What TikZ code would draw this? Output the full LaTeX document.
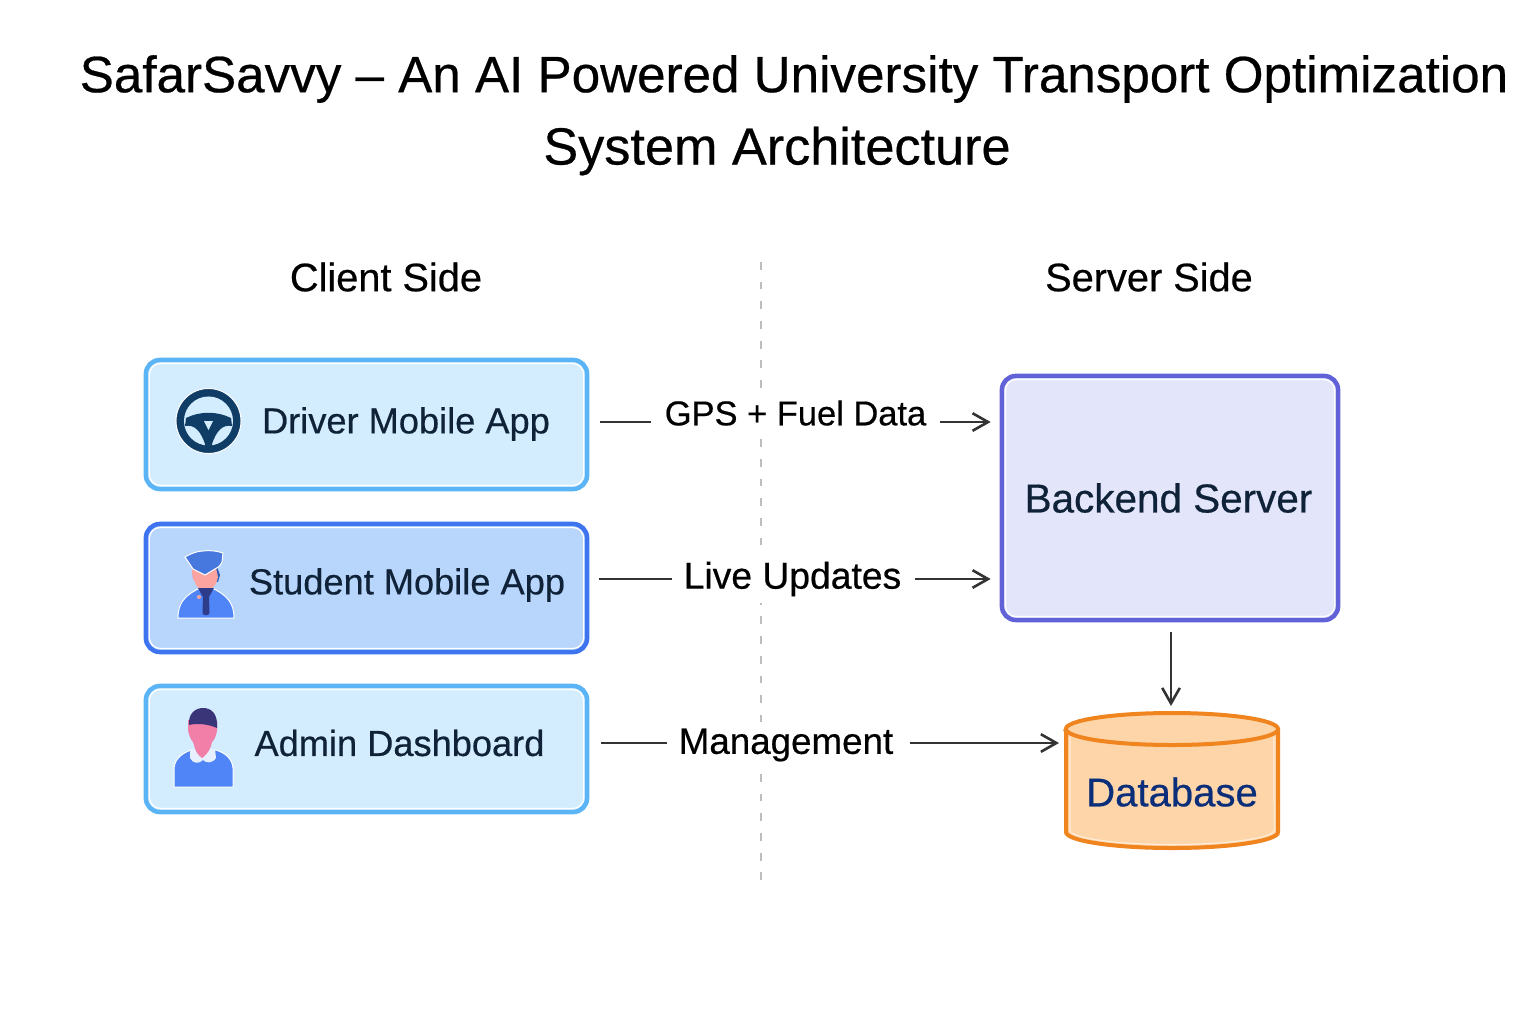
\documentclass[tikz,border=0pt]{standalone}
\usepackage{fontspec}
\setmainfont[FakeBold=0.12]{Liberation Sans}
\newfontfamily\medfont[FakeBold=0.5]{Liberation Sans}
\usetikzlibrary{arrows.meta}

\definecolor{inkdark}{HTML}{0F2238}
\definecolor{linedark}{HTML}{333333}
\definecolor{skyfill}{HTML}{D3EDFE}
\definecolor{skyline}{HTML}{5AB4F5}
\definecolor{bluefill}{HTML}{B8D5FC}
\definecolor{blueline}{HTML}{3F74F0}
\definecolor{violetfill}{HTML}{E3E6FB}
\definecolor{violetline}{HTML}{6262D8}
\definecolor{orangefill}{HTML}{FDD5A8}
\definecolor{orangeline}{HTML}{F0851F}
\definecolor{dbtextblue}{HTML}{0B2E7A}
\definecolor{wheelblue}{HTML}{0F3D66}
\definecolor{bodyblue}{HTML}{4F85F7}
\definecolor{hairblue}{HTML}{2F5DB8}
\definecolor{tienavy}{HTML}{2E3C8C}
\definecolor{facepeach}{HTML}{FCA5A0}
\definecolor{facepink}{HTML}{F27FA8}
\definecolor{hairdark}{HTML}{3A3478}
\definecolor{collarpale}{HTML}{E6F0FF}

\newcommand{\pxfont}[1]{\medfont\fontsize{#1}{#1}\selectfont}

\begin{document}
\begin{tikzpicture}[x=0.01cm, y=-0.01cm]
  \tikzset{
    heading/.style={font=\pxfont{14.55}, text=black, inner sep=0pt},
    side/.style={font=\pxfont{11.3}, text=black, inner sep=0pt},
    boxtext/.style={font=\pxfont{10.3}, text=inkdark, inner sep=0pt},
    linktext/.style={text=black, fill=white, inner xsep=0pt, inner ysep=1.8pt},
    appbox/.style={rectangle, rounded corners=0.14cm, line width=0.045cm, minimum width=4.41cm, inner sep=0pt,
      path picture={\draw[white, line width=0.012cm, rounded corners=0.11cm]
        ([shift={(3.5,3.5)}]path picture bounding box.north west) rectangle
        ([shift={(-3.5,-3.5)}]path picture bounding box.south east);}},
    link/.style={line width=0.026cm, draw=linedark},
    arrow/.style={link, -{Straight Barb[length=4.4pt,width=5pt]}},
    halo/.style={draw=white, line width=0.01cm}
  }
  \useasboundingbox (0,0) rectangle (1536,1024);

  % Titel
  \node[heading] (title) at (794,79) {SafarSavvy – An AI Powered University Transport Optimization};
  \node[heading, font=\pxfont{14.85}] (subtitle) at (777,151) {System Architecture};
  \node[side] (client) at (386,277) {Client Side};
  \node[side] (server) at (1149,277) {Server Side};

  % Scheidslijn
  \coordinate (divtop) at (761,262);
  \coordinate (divbot) at (761,880);
  \draw[line width=0.025cm, draw=black!26, dash pattern=on 2.2pt off 3.4pt] (divtop) -- (divbot);

  % Client boxen
  \node[appbox, draw=skyline, fill=skyfill, minimum height=1.29cm] (driver) at (366.5,424.5) {};
  \node[appbox, draw=blueline, fill=bluefill, minimum height=1.28cm] (student) at (366.5,588) {};
  \node[appbox, draw=skyline, fill=skyfill, minimum height=1.26cm] (admin) at (366.5,749) {};
  \node[boxtext] (drivertext) at (406,424) {Driver Mobile App};
  \node[boxtext] (studenttext) at (407,585) {Student Mobile App};
  \node[boxtext] (admintext) at (399.5,743) {Admin Dashboard};

  % Stuur
  \filldraw[halo, fill=wheelblue] (208.5,421) circle[radius=0.325cm];
  \fill[skyfill] (208.5,421) circle[radius=0.245cm];
  \fill[wheelblue] (186,418) .. controls (200,411) and (217,411) .. (231,418)
    -- (232,426) .. controls (222,424) and (216,432) .. (212,444) -- (212,449) -- (205,449) -- (205,444)
    .. controls (201,432) and (195,424) .. (185,426) -- cycle;
  \fill[skyfill] (204,421) -- (213,421) -- (208.5,430) -- cycle;

  % Student
  \filldraw[halo, fill=bodyblue] (178,618) .. controls (178,604) and (184,596) .. (198,589)
    -- (214,589) .. controls (228,596) and (234,604) .. (234,618) -- cycle;
  \fill[hairblue] (192,564) -- (216,564) -- (220,575) -- (218,582) -- (193,578) -- cycle;
  \fill[facepeach] (192,568) -- (216,568) -- (218,577) .. controls (217,583) and (214,587) .. (212,588)
    .. controls (209,592) and (205,593) .. (203,592) .. controls (199,589) and (196,586) .. (195,582)
    .. controls (193,580) and (192,576) .. (192,568) -- cycle;
  \filldraw[halo, fill=bodyblue!90!black] (185,557) .. controls (192,553) and (198,551) .. (203,551)
    .. controls (210,550) and (217,551) .. (223,553) -- (222,562)
    .. controls (220,566) and (218,568) .. (215,569) -- (205,575) -- (193,569) -- cycle;
  \fill[tienavy] (198,588) -- (214,588) -- (209,597) -- (209.5,613) .. controls (209,616) and (203,616) .. (202.5,613)
    -- (203,597) -- cycle;
  \fill[facepeach] (199,597) circle[radius=0.02cm];

  % Admin
  \filldraw[halo, fill=bodyblue] (174,787) -- (174,768) .. controls (175,758) and (183,753) .. (191,750)
    -- (216,750) .. controls (225,753) and (232,758) .. (233,768) -- (233,787) -- cycle;
  \fill[collarpale] (190,749) -- (215,749) -- (216,758) .. controls (212,764) and (206,763) .. (203,760)
    .. controls (199,764) and (193,764) .. (190,758) -- cycle;
  \fill[facepink] (188,720) -- (217,720) -- (217,731) .. controls (216,737) and (214,740) .. (212,742)
    -- (211,746) .. controls (209,752) and (205,756) .. (202,758) .. controls (198,755) and (195,751) .. (194,745)
    -- (193,742) .. controls (191,740) and (189,736) .. (188,730) -- cycle;
  \fill[hairdark] (189,725) .. controls (188,713) and (196,708) .. (203,708)
    .. controls (211,708) and (218,713) .. (217,728) .. controls (208,724) and (197,723) .. (189,725) -- cycle;

  % Server kant
  \node[appbox, draw=violetline, fill=violetfill, minimum width=3.36cm, minimum height=2.44cm] (backend) at (1170,498) {};
  \node[boxtext, font=\pxfont{11.5}] (backendtext) at (1168.5,498) {Backend Server};

  % Database
  \coordinate (dbtop) at (1171,706);
  \coordinate (dbleft) at (1059,743);
  \draw[line width=0.04cm, draw=orangeline, fill=orangefill] (1066,729) -- (1066,832)
    arc (180:360:1.06cm and 0.16cm) -- (1278,729) arc (0:180:1.06cm and 0.16cm) -- cycle;
  \draw[line width=0.04cm, draw=orangeline] (1066,729) arc (180:360:1.06cm and 0.16cm);
  \draw[line width=0.012cm, draw=orangefill!45!white] (1070,737) -- (1070,830) arc (180:360:1.02cm and 0.145cm) -- (1274,737);
  \node[boxtext, font=\pxfont{11.4}, text=dbtextblue] (dbtext) at (1172,792) {Database};

  % Teksten bij de pijlen
  \node[linktext, font=\pxfont{9.8}] (gps) at (795.5,413) {GPS + Fuel Data};
  \node[linktext, font=\pxfont{10.6}] (live) at (792.5,579) {Live Updates};
  \node[linktext, font=\pxfont{10.45}] (mgmt) at (786,745) {Management};

  % Pijlen
  \coordinate (gpsy) at (0,422);
  \coordinate (livey) at (0,579);
  \draw[link, shorten <=0.11cm, shorten >=0.13cm] (driver.east |- gpsy) -- (gps.west |- gpsy);
  \draw[arrow, shorten <=0.13cm, shorten >=0.09cm] (gps.east |- gpsy) -- (backend.west |- gpsy);
  \draw[link, shorten <=0.1cm, shorten >=0.11cm] (student.east |- livey) -- (live.west |- livey);
  \draw[arrow, shorten <=0.13cm, shorten >=0.09cm] (live.east |- livey) -- (backend.west |- livey);
  \draw[link, shorten <=0.12cm, shorten >=0.11cm] (admin.east |- dbleft) -- (mgmt.west |- dbleft);
  \draw[arrow, shorten <=0.16cm] (mgmt.east |- dbleft) -- (dbleft);
  \draw[arrow, shorten <=0.1cm] (backend.south -| dbtop) -- (dbtop);
\end{tikzpicture}
\end{document}
